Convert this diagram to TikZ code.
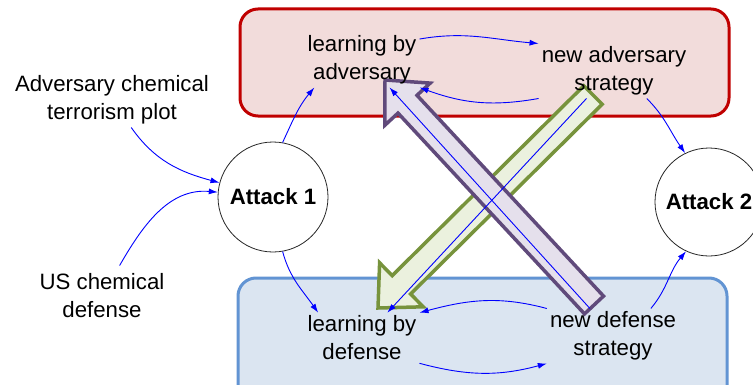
\documentclass[tikz,border=0pt]{standalone}
\usepackage{fontspec}
\setmainfont{Liberation Sans}
\usetikzlibrary{arrows.meta}
\definecolor{advline}{RGB}{192,0,0}
\definecolor{advfill}{RGB}{242,220,219}
\definecolor{defline}{RGB}{98,148,211}
\definecolor{deffill}{RGB}{219,229,241}
\definecolor{purpline}{RGB}{96,74,123}
\definecolor{purpfill}{RGB}{229,224,236}
\definecolor{greenline}{RGB}{119,147,60}
\definecolor{greenfill}{RGB}{235,241,222}

\begin{document}
\begin{tikzpicture}[x=1bp,y=1bp]
	\begin{scope}[>={Latex[length=9bp,width=6bp]}, line join=miter, font=\fontsize{22.3}{28}\selectfont,
		lbl/.style={align=center, inner sep=3bp},
		attack/.style={circle, draw=black!85, line width=0.8bp, fill=white, inner sep=0pt, font=\fontsize{22.3}{28}\selectfont\bfseries},
		link/.style={->, blue, line width=0.9bp}]

	\useasboundingbox (0,0) rectangle (753,384);
	\clip (0,0) rectangle (753,384);

	\draw [advline, fill=advfill, line width=3bp, rounded corners=18bp] (240,268) rectangle (729,375);
	\draw [defline, fill=deffill, line width=3bp, rounded corners=18bp] (238,106) rectangle (727,-30);

	\draw [greenline, fill=greenfill, line width=3.5bp] (602.2,279.8) -- (410.6,90.0) -- (423.2,77.2) -- (378,76) -- (379.6,121.2) -- (392.2,108.4) -- (583.8,298.2) -- cycle;
	\draw [purpline, fill=purpfill, line width=3.5bp] (603.5,87.9) -- (417,288.7) -- (430.2,300.9) -- (385,304) -- (384.8,258.7) -- (398,270.9) -- (584.5,70.1) -- cycle;

	\node [lbl] (lba) at (362,324) {learning by\\adversary};
	\node [lbl] (nas) at (614,313) {new adversary\\strategy};
	\node [lbl] (lbd) at (362,46) {learning by\\defense};
	\node [lbl] (nds) at (613,48) {new defense\\strategy};
	\node [lbl] (plot) at (112,284) {Adversary chemical\\terrorism plot};
	\node [lbl] (usdef) at (102,88) {US chemical\\defense};
	\node [attack, minimum size=110bp] (att1) at (273,187) {Attack 1};
	\node [attack, minimum size=108bp] (att2) at (709,182) {Attack 2};

	\draw [link] (plot) to[out=-55,in=165] (att1);
	\draw [link, shorten <=6bp] (usdef) to[out=60,in=175] (att1);
	\draw [link] (att1.80) to[out=65,in=-130] (lba.-150);
	\draw [link] (att1.-80) to[out=-75,in=125] (lbd.150);

	\draw [link] (lba.20) to[out=10,in=175] (nas.north west);
	\draw [link] (nas.south west) to[out=190,in=-20] (lba.south east);
	\draw [link] (nds.north west) to[out=165,in=15] (lbd.north east);
	\draw [link] (lbd.south east) to[out=-15,in=195] (nds.south west);

	\draw [link] (nas.-40) to[out=-45,in=125] (att2.116);
	\draw [link] (nds.36) to[out=50,in=-130] (att2.-115);

	\draw [link] (nds.130) -- (lba.-45);
	\draw [link] (nas.-135) -- (lbd.45);

	\end{scope}
\end{tikzpicture}
\end{document}
